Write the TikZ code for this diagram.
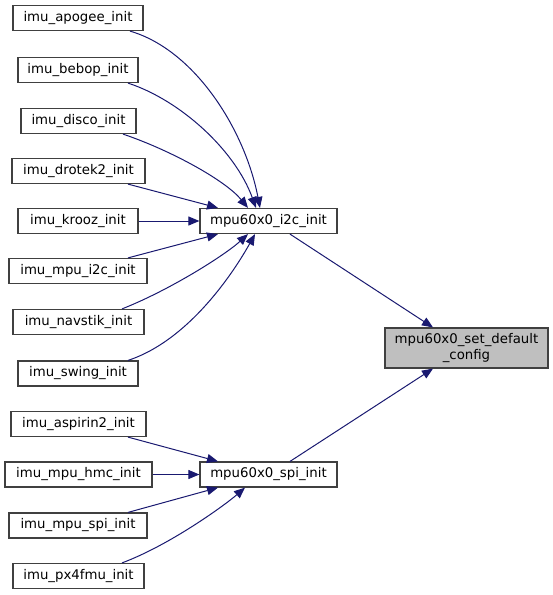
\documentclass[tikz,border=0pt]{standalone}
\usepackage{fontspec}
\setmainfont{DejaVu Sans}
\usetikzlibrary{arrows.meta}
\definecolor{edgeblue}{HTML}{191970}
\definecolor{boxline}{HTML}{404040}
\definecolor{hl}{HTML}{BFBFBF}
\tikzset{
  fn/.style={draw=boxline, line width=1.2pt, rectangle, minimum height=25pt, inner sep=0pt, fill=white, font=\fontsize{13.3}{16}\selectfont, text=black},
  cur/.style={fn, fill=hl, minimum height=40pt, align=center},
  edge/.style={draw=edgeblue, line width=1pt, -{Triangle[length=11pt,width=9pt]}}
}
\begin{document}
\begin{tikzpicture}[x=1pt,y=-1pt]
\useasboundingbox (0,0) rectangle (553,595);
\node[fn, minimum width=130pt] (apogee) at (78,18) {imu\_apogee\_init};
\node[fn, minimum width=120pt] (bebop) at (78,70) {imu\_bebop\_init};
\node[fn, minimum width=115pt] (disco) at (78.5,121) {imu\_disco\_init};
\node[fn, minimum width=133pt] (drotek) at (78.5,171) {imu\_drotek2\_init};
\node[fn, minimum width=120pt] (krooz) at (78,221) {imu\_krooz\_init};
\node[fn, minimum width=138pt] (mpui2c) at (78,271) {imu\_mpu\_i2c\_init};
\node[fn, minimum width=131pt] (navstik) at (78.5,322) {imu\_navstik\_init};
\node[fn, minimum width=120pt] (swing) at (78,373.5) {imu\_swing\_init};
\node[fn, minimum width=135pt] (aspirin) at (78.5,424) {imu\_aspirin2\_init};
\node[fn, minimum width=147pt] (hmc) at (78.5,474.5) {imu\_mpu\_hmc\_init};
\node[fn, minimum width=138pt] (mpuspi) at (78,525.5) {imu\_mpu\_spi\_init};
\node[fn, minimum width=131pt] (px4) at (78.5,576) {imu\_px4fmu\_init};
\node[fn, minimum width=137pt] (i2c) at (268.5,221) {mpu60x0\_i2c\_init};
\node[fn, minimum width=137pt] (spi) at (268.5,474.5) {mpu60x0\_spi\_init};
\node[cur, minimum width=163pt] (def) at (466.5,348) {mpu60x0\_set\_default\\\_config};

\draw[edge] ([xshift=52pt]apogee.south) .. controls (195,50) and (245,130) .. ([xshift=-8.5pt]i2c.north);
\draw[edge] ([xshift=50pt]bebop.south) .. controls (180,100) and (235,150) .. ([xshift=-12.5pt]i2c.north);
\draw[edge] ([xshift=44.5pt]disco.south) .. controls (170,150) and (225,180) .. ([xshift=-20.5pt]i2c.north);
\draw[edge] ([xshift=49.5pt]drotek.south) -- ([xshift=-50.5pt]i2c.north);
\draw[edge] (krooz.east) -- (i2c.west);
\draw[edge] ([xshift=50pt]mpui2c.north) -- ([xshift=-50.5pt]i2c.south);
\draw[edge] ([xshift=43.5pt]navstik.north) .. controls (170,290) and (225,255) .. ([xshift=-20.5pt]i2c.south);
\draw[edge] ([xshift=50pt]swing.north) .. controls (190,340) and (235,270) .. ([xshift=-13.5pt]i2c.south);
\draw[edge] ([xshift=21.5pt]i2c.south) -- ([xshift=-33.5pt]def.north);
\draw[edge] ([xshift=21.5pt]spi.north) -- ([xshift=-33.5pt]def.south);
\draw[edge] ([xshift=49.5pt]aspirin.south) -- ([xshift=-50.5pt]spi.north);
\draw[edge] (hmc.east) -- (spi.west);
\draw[edge] ([xshift=50pt]mpuspi.north) -- ([xshift=-50.5pt]spi.south);
\draw[edge] ([xshift=43.5pt]px4.north) .. controls (170,545) and (225,505) .. ([xshift=-23.5pt]spi.south);
\end{tikzpicture}
\end{document}
